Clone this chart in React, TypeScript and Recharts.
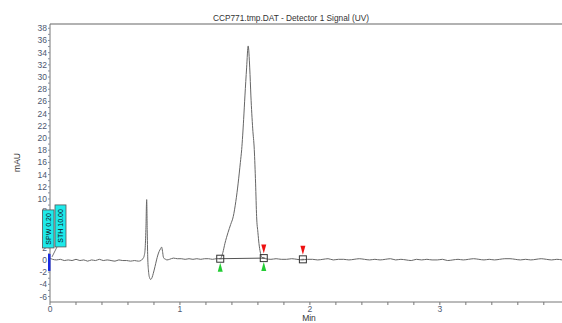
import React from 'react';
import { ComposedChart, Line, Scatter, XAxis, YAxis, ReferenceLine } from 'recharts';

const FONT = '"Liberation Sans", Arial, Helvetica, sans-serif';

const titleText = 'CCP771.tmp.DAT - Detector 1 Signal (UV)';
const yAxisTitle = 'mAU';
const xAxisTitle = 'Min';

// Detector signal (time in min, value in mAU)
const signalT = [
  0.0, 0.02, 0.05, 0.08, 0.11, 0.14, 0.17, 0.2, 0.23, 0.26, 0.29, 0.32, 0.35, 0.38, 0.41, 0.44, 0.47, 0.5,
  0.53, 0.56, 0.59, 0.62, 0.65, 0.68, 0.7, 0.71, 0.718, 0.725, 0.732, 0.738, 0.744, 0.748, 0.752, 0.758,
  0.766, 0.775, 0.785, 0.795, 0.808, 0.82, 0.83, 0.84, 0.85, 0.859, 0.866, 0.872, 0.88, 0.89, 0.9, 0.92,
  0.95, 0.98, 1.01, 1.04, 1.07, 1.1, 1.13, 1.16, 1.19, 1.22, 1.25, 1.28, 1.31, 1.33, 1.346, 1.37, 1.39,
  1.41, 1.43, 1.448, 1.465, 1.475, 1.49, 1.5, 1.513, 1.525, 1.537, 1.546, 1.56, 1.572, 1.582, 1.59, 1.6,
  1.608, 1.618, 1.628, 1.645, 1.66, 1.7, 1.74, 1.78, 1.82, 1.86, 1.9, 1.94, 1.98, 2.02, 2.06, 2.1, 2.14,
  2.18, 2.22, 2.26, 2.3, 2.34, 2.38, 2.42, 2.46, 2.5, 2.54, 2.58, 2.62, 2.66, 2.7, 2.74, 2.78, 2.82, 2.86,
  2.9, 2.94, 2.98, 3.02, 3.06, 3.1, 3.14, 3.18, 3.22, 3.26, 3.3, 3.34, 3.38, 3.42, 3.46, 3.5, 3.54, 3.58,
  3.62, 3.66, 3.7, 3.74, 3.78, 3.82, 3.86, 3.9, 3.94,
];
const signalV = [
  0.3, 0.1, 0.0, 0.1, -0.1, 0.0, -0.1, 0.1, -0.1, 0.0, -0.2, 0.0, -0.1, 0.1, -0.1, 0.0, -0.1, -0.2,
  0.0, -0.1, -0.1, -0.2, -0.1, -0.2, -0.1, 0.1, 0.3, 0.7, 1.8, 5.0, 9.9, 5.0, 0.5, -1.8,
  -2.9, -3.2, -2.9, -2.2, -1.1, 0.0, 0.8, 1.4, 1.8, 2.1, 1.4, 0.5, 0.2, 0.1, 0.0, 0.1,
  0.3, 0.2, 0.2, 0.1, 0.2, 0.1, 0.2, 0.1, 0.2, 0.2, 0.1, 0.2, 0.2, 1.2, 2.7, 4.5, 5.8,
  7.1, 9.6, 12.6, 16.0, 18.1, 23.0, 26.9, 31.5, 35.1, 31.5, 26.9, 21.5, 18.1, 12.6, 7.1, 4.5,
  2.7, 1.3, 0.5, 0.3, 0.2, 0.1, 0.2, 0.1, 0.1, 0.2, 0.1, 0.0, 0.1, 0.1, 0.0, 0.1, 0.2,
  0.0, 0.1, 0.1, 0.0, 0.1, 0.2, 0.1, 0.0, 0.1, 0.0, 0.1, 0.2, 0.0, 0.1, 0.0, -0.1, 0.1, 0.0,
  0.1, 0.0, 0.0, 0.1, -0.1, 0.0, 0.1, 0.0, 0.1, 0.2, 0.1, 0.0, 0.1, 0.0, 0.1, 0.2, 0.2, 0.1,
  0.0, 0.1, 0.0, 0.1, 0.2, 0.1, 0.0, 0.1, 0.0,
];

// Integration marks
const markT = [1.31, 1.645, 1.946];
const markV = [0.2, 0.3, 0.1];
const startT = [1.31, 1.645];
const startV = [0.2, 0.3];
const endT = [1.645, 1.946];
const endV = [0.3, 0.1];
const baselineT = [1.31, 1.645];
const baselineV = [0.2, 0.3];

// Timed events
const eventT = [0, 0];
const eventV = [0, 0];
const eventLabels = ['SPW 0.20', 'STH 10.00'];

const xTicks = [0, 0.2, 0.4, 0.6, 0.8, 1, 1.2, 1.4, 1.6, 1.8, 2, 2.2, 2.4, 2.6, 2.8, 3, 3.2, 3.4, 3.6, 3.8];
const yTicks = [
  -6, -5, -4, -3, -2, -1, 0, 1, 2, 3, 4, 5, 6, 7, 8, 9, 10, 11, 12, 13, 14, 15, 16, 17, 18, 19, 20,
  21, 22, 23, 24, 25, 26, 27, 28, 29, 30, 31, 32, 33, 34, 35, 36, 37, 38,
];

const signal = signalT.map((t, i) => ({ t, v: signalV[i] }));
const marks = markT.map((t, i) => ({ t, v: markV[i] }));
const starts = startT.map((t, i) => ({ t, v: startV[i] }));
const ends = endT.map((t, i) => ({ t, v: endV[i] }));
const baseline = baselineT.map((t, i) => ({ t, v: baselineV[i] }));
const events = eventT.map((t, i) => ({ t, v: eventV[i], label: eventLabels[i] }));

const Y_MIN = -6.9;
const Y_MAX = 38.7;
const X_MAX = 3.94;

const tickStyle = { fontSize: 8.5, fill: '#4d5870', fontFamily: FONT };

const SquareShape = (props: any) => {
  const { cx, cy } = props;
  return (
    <g>
      <rect x={cx - 3.5} y={cy - 3.5} width={7} height={7} fill="none" stroke="#333" strokeWidth={1} />
      <line x1={cx - 1.5} y1={cy} x2={cx + 1.5} y2={cy} stroke="#555" strokeWidth={0.8} />
    </g>
  );
};

const StartShape = (props: any) => {
  const { cx, cy } = props;
  return <path d={`M${cx},${cy + 4} L${cx + 2.5},${cy + 13} L${cx - 2.5},${cy + 13} Z`} fill="#22cc33" />;
};

const EndShape = (props: any) => {
  const { cx, cy } = props;
  return <path d={`M${cx - 2.5},${cy - 13.5} L${cx + 2.5},${cy - 13.5} L${cx},${cy - 4.5} Z`} fill="#ee1111" />;
};

const EventShape = (props: any) => {
  const { cx, cy, payload } = props;
  const i = eventLabels.indexOf(payload.label);
  const bx = i === 0 ? cx - 7.5 : cx + 5;
  const by = i === 0 ? cy - 50 : cy - 55;
  const bw = i === 0 ? 11.5 : 11;
  const bh = i === 0 ? 38 : 42;
  const tx = bx + bw / 2;
  const ty = by + bh / 2;
  return (
    <g>
      {i === 0 ? (
        <rect x={cx - 2} y={cy - 6} width={2.5} height={17} fill="#1a2be0" />
      ) : (
        <line x1={bx + 2} y1={by + bh} x2={cx + 2} y2={cy - 3} stroke="#555" strokeWidth={0.8} />
      )}
      <rect x={bx} y={by} width={bw} height={bh} fill="#1eeaea" stroke="#555" strokeWidth={0.8} />
      <text
        x={tx}
        y={ty}
        transform={`rotate(-90 ${tx} ${ty})`}
        textAnchor="middle"
        dominantBaseline="central"
        fontSize={7}
        fontFamily={FONT}
        fill="#112"
      >
        {payload.label}
      </text>
    </g>
  );
};

export default function App() {
  return (
    <div style={{ position: 'absolute', left: 0, top: 0, width: 562, height: 323, background: '#fff' }}>
      <ComposedChart width={562} height={323} margin={{ top: 24, right: 0, bottom: 0, left: 0 }}>
        <XAxis
          type="number"
          dataKey="t"
          domain={[0, X_MAX]}
          ticks={xTicks}
          interval={0}
          tickFormatter={(v: number) => (Number.isInteger(v) ? String(v) : '')}
          height={21}
          tickSize={3}
          tickMargin={1}
          axisLine={{ stroke: '#777' }}
          tickLine={{ stroke: '#777' }}
          tick={tickStyle}
          label={{
            content: (p: any) => {
              const vb = p.viewBox || { x: 50, y: 302, width: 512, height: 21 };
              return (
                <text x={vb.x + vb.width / 2 + 3} y={321} textAnchor="middle" fontSize={8.5} fontFamily={FONT} fill="#333">
                  {xAxisTitle}
                </text>
              );
            },
          }}
        />
        <YAxis
          type="number"
          dataKey="v"
          domain={[Y_MIN, Y_MAX]}
          ticks={yTicks}
          interval={0}
          tickFormatter={(v: number) => (v % 2 === 0 ? String(v) : '')}
          width={50}
          tickSize={2}
          tickMargin={1}
          axisLine={{ stroke: '#777' }}
          tickLine={{ stroke: '#8890a0' }}
          tick={tickStyle}
          label={{
            content: (p: any) => {
              const vb = p.viewBox || { x: 0, y: 24, width: 50, height: 278 };
              const x = vb.x + 16.5;
              const y = 162.5;
              return (
                <text
                  x={x}
                  y={y}
                  transform={`rotate(-90 ${x} ${y})`}
                  textAnchor="middle"
                  dominantBaseline="central"
                  fontSize={8.5}
                  fontFamily={FONT}
                  fill="#333"
                >
                  {yAxisTitle}
                </text>
              );
            },
          }}
        />
        <ReferenceLine y={Y_MAX} stroke="#999" strokeWidth={1.5} />
        <Line
          data={signal}
          dataKey="v"
          type="monotone"
          stroke="#666"
          strokeWidth={1}
          dot={false}
          activeDot={false}
          isAnimationActive={false}
        />
        <Line
          data={baseline}
          dataKey="v"
          type="linear"
          stroke="#555"
          strokeWidth={1}
          dot={false}
          activeDot={false}
          isAnimationActive={false}
        />
        <Scatter data={marks} dataKey="v" shape={SquareShape} isAnimationActive={false} />
        <Scatter data={starts} dataKey="v" shape={StartShape} isAnimationActive={false} />
        <Scatter data={ends} dataKey="v" shape={EndShape} isAnimationActive={false} />
        <Scatter data={events} dataKey="v" shape={EventShape} isAnimationActive={false} zIndex={2000} />
      </ComposedChart>
      <svg
        width={562}
        height={30}
        style={{ position: 'absolute', left: 0, top: 0, pointerEvents: 'none' }}
      >
        <text x={291} y={21} textAnchor="middle" fontSize={8.3} fontFamily={FONT} fill="#333">
          {titleText}
        </text>
      </svg>
    </div>
  );
}
